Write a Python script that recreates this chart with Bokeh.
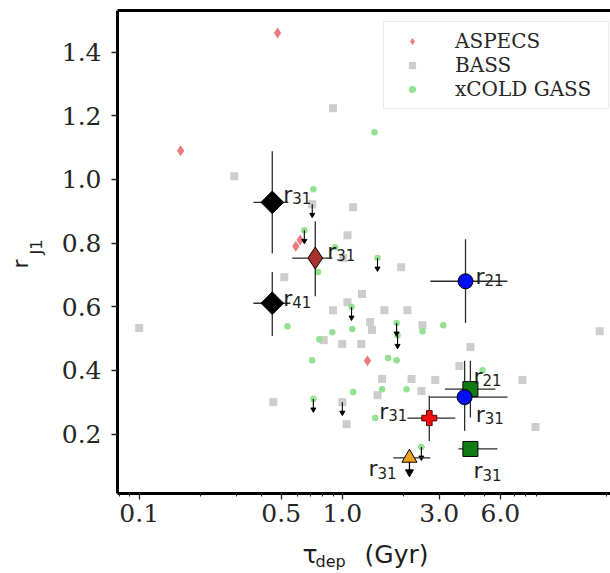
import numpy as np
from bokeh.plotting import figure
from bokeh.models import (ColumnDataSource, FixedTicker, PrintfTickFormatter, LinearAxis,
                          Legend, LegendItem, Range1d, Label)
from bokeh.embed import file_html
from bokeh.resources import INLINE
from bokeh.core.properties import value

# ---------------- data ----------------
x_ticks = [0.1, 0.5, 1.0, 3.0, 6.0]
x_minor = [0.08, 0.09, 0.2, 0.3, 0.4, 0.6, 0.7, 0.8, 0.9, 2.0, 4.0, 5.0, 7.0, 8.0, 9.0, 20.0]
y_ticks = [0.2, 0.4, 0.6, 0.8, 1.0, 1.2, 1.4]
x_lim = (0.0782, 20.9)
y_lim = (0.013, 1.531)

aspecs_x = [0.48, 0.16, 0.59, 0.62, 1.33]
aspecs_y = [1.46, 1.09, 0.79, 0.81, 0.43]

bass_x = [0.10, 0.294, 0.457, 0.90, 0.711, 1.13, 1.06, 1.01, 1.95, 0.518, 1.25, 1.06, 0.90,
          1.61, 2.09, 1.37, 1.40, 2.48, 0.81, 1.0, 1.24, 1.57, 2.19, 2.45, 1.49, 1.0, 1.05,
          4.27, 3.77, 7.7, 2.87, 8.93, 18.5]
bass_y = [0.533, 1.01, 0.30, 1.224, 0.922, 0.913, 0.825, 0.753, 0.724, 0.693, 0.64, 0.614, 0.589,
          0.589, 0.589, 0.552, 0.527, 0.542, 0.495, 0.483, 0.483, 0.373, 0.373, 0.335, 0.322, 0.30, 0.231,
          0.473, 0.414, 0.37, 0.37, 0.222, 0.523]

xcg_x = [1.44, 0.72, 0.65, 1.49, 0.76, 0.92, 1.11, 0.537, 0.893, 1.12, 1.85, 1.87, 2.48, 0.77,
         0.71, 1.68, 1.85, 2.07, 1.57, 1.13, 0.72, 1.45, 3.14, 2.45, 4.9]
xcg_y = [1.148, 0.969, 0.84, 0.753, 0.709, 0.787, 0.599, 0.539, 0.52, 0.53, 0.549, 0.51, 0.523, 0.498,
         0.432, 0.439, 0.432, 0.341, 0.341, 0.332, 0.31, 0.25, 0.542, 0.159, 0.40]

# upper limits (small arrows)
ul_x = [0.711, 0.65, 1.49, 1.11, 1.85, 1.87, 0.72, 1.0, 2.45]
ul_y = [0.922, 0.84, 0.753, 0.599, 0.549, 0.51, 0.31, 0.30, 0.159]

# highlighted sources with error bars
blk_x = [0.452, 0.452]
blk_y = [0.928, 0.611]
blk_xlo = [0.365, 0.365]
blk_xhi = [0.542, 0.555]
blk_ylo = [0.768, 0.508]
blk_yhi = [1.089, 0.709]
blk_sub = ["31", "41"]

brn_x = [0.736]
brn_y = [0.753]
brn_xlo = [0.567]
brn_xhi = [0.893]
brn_ylo = [0.633]
brn_yhi = [0.869]
brn_sub = ["31"]

blu_x = [4.04, 4.0]
blu_y = [0.68, 0.316]
blu_xlo = [2.71, 2.71]
blu_xhi = [6.5, 6.5]
blu_ylo = [0.549, 0.21]
blu_yhi = [0.812, 0.43]
blu_sub = ["21", "31"]

grn_x = [4.27, 4.27]
grn_y = [0.341, 0.153]
grn_xlo = [3.2, 3.73]
grn_xhi = [5.67, 5.8]
grn_ylo = [0.252, 0.145]
grn_yhi = [0.43, 0.161]
grn_sub = ["21", "31"]

red_x = [2.68]
red_y = [0.25]
red_xlo = [2.09]
red_xhi = [3.6]
red_ylo = [0.178]
red_yhi = [0.32]
red_sub = ["31"]

org_x = [2.14]
org_y = [0.125]
org_xlo = [1.78]
org_xhi = [2.71]
org_sub = ["31"]

# ---------------- layout / styles ----------------
SERIF = "DejaVu Serif"
SANS = "DejaVu Sans"
ink = "#1e1e1e"

W, H = 610, 573
BOX_L, BOX_T, BOX_B = 117, 10, 493      # pixel edges of the axes box
PX_PER_DEC = (W - BOX_L) / (np.log10(x_lim[1]) - np.log10(x_lim[0]))
PX_PER_Y = (BOX_B - BOX_T) / (y_lim[1] - y_lim[0])
# frame spans the whole canvas below the top border; axes are pinned to the box edges
fx0 = 10 ** (np.log10(x_lim[0]) - BOX_L / PX_PER_DEC)
fy0 = y_lim[0] - (H - BOX_B) / PX_PER_Y

p = figure(width=W, height=H, x_axis_type="log",
           x_range=Range1d(fx0, x_lim[1]), y_range=Range1d(fy0, y_lim[1]),
           output_backend="svg", toolbar_location=None, title_location=None,
           min_border_left=0, min_border_right=0, min_border_top=BOX_T,
           min_border_bottom=0)
p.outline_line_color = None
p.grid.visible = False
p.background_fill_color = "white"
p.border_fill_color = "white"

xa = p.xaxis[0]
ya = p.yaxis[0]
xa.ticker = FixedTicker(ticks=x_ticks, minor_ticks=x_minor)
xa.formatter = PrintfTickFormatter(format="%.1f")
ya.ticker = FixedTicker(ticks=y_ticks)
ya.formatter = PrintfTickFormatter(format="%.1f")
xa.fixed_location = y_lim[0]
ya.fixed_location = x_lim[0]
xa.bounds = x_lim
ya.bounds = y_lim
for ax in (xa, ya):
    ax.axis_line_width = 3
    ax.axis_line_color = "black"
    ax.major_tick_out = 6
    ax.major_tick_in = 0
    ax.major_tick_line_width = 1.3
    ax.major_tick_line_color = "#222222"
    ax.minor_tick_out = 3
    ax.minor_tick_in = 0
    ax.minor_tick_line_width = 1.1
    ax.minor_tick_line_color = "#222222"
    ax.major_label_text_font = SERIF
    ax.major_label_text_font_size = "25px"
    ax.major_label_text_color = "#262626"
    ax.axis_label = None
ya.minor_tick_line_color = None
xa.major_label_standoff = 4
ya.major_label_standoff = 10

top = LinearAxis(axis_line_width=3, axis_line_color="black", bounds=x_lim,
                 major_tick_line_color=None, minor_tick_line_color=None,
                 major_label_text_font_size="0px", major_label_standoff=0,
                 major_tick_out=0, major_tick_in=0, minor_tick_out=0, minor_tick_in=0)
top.ticker = FixedTicker(ticks=[])
p.add_layout(top, "above")

# background samples
r_bass = p.scatter(bass_x, bass_y, marker="square", size=8, fill_color="#cdcdcd",
                   line_color=None)
r_xcg = p.scatter(xcg_x, xcg_y, marker="circle", size=6.5, fill_color="#93e193",
                  line_color=None)
r_asp = p.scatter(aspecs_x, aspecs_y, marker="diamond", size=11,
                  fill_color="#ea7c80", line_color=None)

# upper-limit arrows
ul_end = [v - 0.033 for v in ul_y]
p.segment(ul_x, ul_y, ul_x, ul_end, line_color="black", line_width=1.1)
p.scatter(ul_x, ul_end, marker="inverted_triangle", size=5, fill_color="black",
          line_color="black")

# error bars
def errbars(xs, ys, xlo, xhi, ylo=None, yhi=None):
    p.segment(xlo, ys, xhi, ys, line_color="#2b2b2b", line_width=1.3)
    if ylo is not None:
        p.segment(xs, ylo, xs, yhi, line_color="#2b2b2b", line_width=1.3)

errbars(blk_x, blk_y, blk_xlo, blk_xhi, blk_ylo, blk_yhi)
errbars(brn_x, brn_y, brn_xlo, brn_xhi, brn_ylo, brn_yhi)
errbars(blu_x, blu_y, blu_xlo, blu_xhi, blu_ylo, blu_yhi)
errbars(grn_x, grn_y, grn_xlo, grn_xhi, grn_ylo, grn_yhi)
errbars(red_x, red_y, red_xlo, red_xhi, red_ylo, red_yhi)
errbars(org_x, org_y, org_xlo, org_xhi)

org_end = [v - 0.045 for v in org_y]
p.segment(org_x, org_y, org_x, org_end, line_color="black", line_width=1.3)
p.scatter(org_x, org_end, marker="inverted_triangle", size=8, fill_color="black",
          line_color="black")

# highlighted markers
p.scatter(blk_x, blk_y, marker="square", angle=np.pi / 4, size=16, fill_color="black",
          line_color="black")
p.scatter(brn_x, brn_y, marker="diamond", size=22, fill_color="#a8322c",
          line_color="black", line_width=1)
p.scatter(grn_x, grn_y, marker="square", size=15, fill_color="#0f7d14",
          line_color="black", line_width=1)
p.scatter(blu_x, blu_y, marker="circle", size=15, fill_color="#0010f0",
          line_color="black", line_width=1)
p.scatter(red_x, red_y, marker="plus", size=15, fill_color="#f01010",
          line_color="#600000", line_width=1)
p.scatter(org_x, org_y, marker="triangle", size=15, fill_color="#f0a020",
          line_color="black", line_width=1)

# point labels: r + subscript (offsets in screen pixels)
lab_x = blk_x + brn_x + blu_x + grn_x + red_x + org_x
lab_y = blk_y + brn_y + blu_y + grn_y + red_y + org_y
lab_sub = blk_sub + brn_sub + blu_sub + grn_sub + red_sub + org_sub
dx = [11, 11, 12, 10, 11, 3, 3, -50, -41]
dy = [-8, -5, -7, -5, 17, -13, 22, -7, 11]
src_r = ColumnDataSource(dict(x=lab_x, y=lab_y, t=["r"] * len(lab_x), xo=dx, yo=dy))
src_s = ColumnDataSource(dict(x=lab_x, y=lab_y, t=lab_sub,
                              xo=[d + 9 for d in dx], yo=[d + 4 for d in dy]))
p.text(x="x", y="y", text="t", x_offset="xo", y_offset="yo", source=src_r,
       text_font=value(SANS), text_font_size="22px", text_color=ink,
       text_baseline="alphabetic", text_align="left")
p.text(x="x", y="y", text="t", x_offset="xo", y_offset="yo", source=src_s,
       text_font=value(SANS), text_font_size="15px", text_color=ink,
       text_baseline="alphabetic", text_align="left")

# legend
legend = Legend(items=[LegendItem(label="ASPECS", renderers=[r_asp]),
                       LegendItem(label="BASS", renderers=[r_bass]),
                       LegendItem(label="xCOLD GASS", renderers=[r_xcg])],
                location=(383, 384 + (H - BOX_B)), margin=0, padding=7, spacing=0,
                glyph_width=42, glyph_height=18, label_height=18, label_standoff=22,
                label_width=146,
                label_text_font=SERIF, label_text_font_size="20px",
                label_text_color="#262626",
                border_line_color="#d4d4d4", border_line_width=1.2,
                background_fill_color="white", background_fill_alpha=0.85)
p.add_layout(legend, "center")

# axis titles (screen px from the canvas' left / bottom; anchored at text middle)
lab = dict(x_units="screen", y_units="screen", text_color=ink, text_font=SANS,
           text_baseline="middle", text_align="left")
p.add_layout(Label(x=302, y=H - 554, text="τ", text_font_size="25px", **lab))
p.add_layout(Label(x=315, y=H - 561, text="dep", text_font_size="16px", **lab))
p.add_layout(Label(x=364, y=H - 554, text="(Gyr)", text_font_size="25px", **lab))
p.add_layout(Label(x=20, y=H - 268, text="r", angle=np.pi / 2, text_font_size="22px", **lab))
p.add_layout(Label(x=36, y=H - 254, text="J1", angle=np.pi / 2, text_font_size="16px", **lab))

open("out.html", "w").write(file_html(p, INLINE))
